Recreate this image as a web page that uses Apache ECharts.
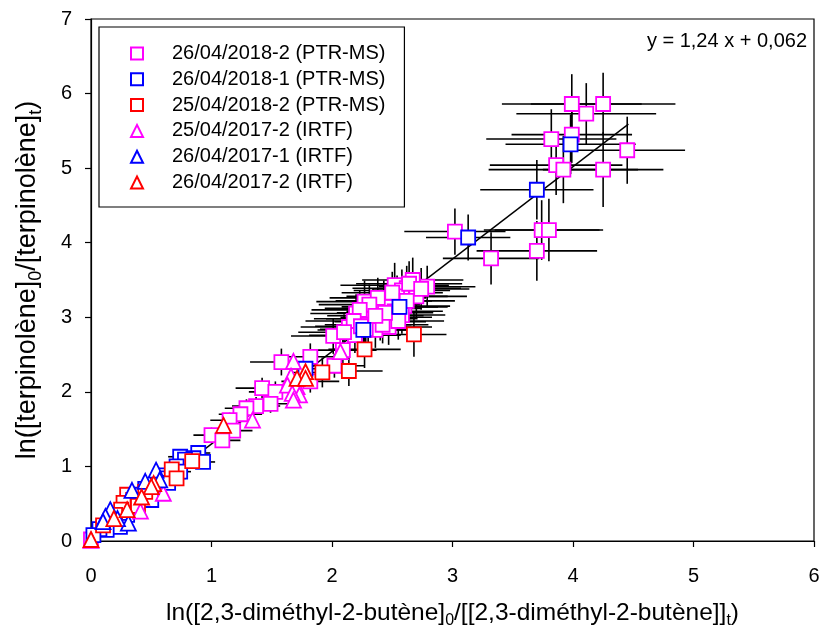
<!DOCTYPE html>
<html>
<head>
<meta charset="utf-8">
<script src="https://cdn.jsdelivr.net/npm/echarts@6/dist/echarts.min.js"></script>
<style>html,body{margin:0;padding:0;background:#fff;}#c{width:822px;height:630px;}</style>
</head>
<body>
<div id="c"></div>
<script>
// [x, y, xErr, yErr]
const sqMagenta2018_2 = [
  [3.99,5.86,0.58,0.40],[4.25,5.86,0.60,0.42],[4.11,5.73,0.58,0.41],[3.82,5.39,0.54,0.40],
  [3.99,5.45,0.50,0.38],[4.45,5.24,0.48,0.45],[3.86,5.04,0.55,0.40],[3.92,4.98,0.62,0.45],
  [4.25,4.98,0.50,0.50],[3.74,4.17,0.48,0.40],[3.80,4.17,0.45,0.42],[3.70,3.89,0.50,0.40],
  [3.02,4.15,0.42,0.31],[3.32,3.79,0.40,0.35],
  [2.67,3.50,0.42,0.30],[2.52,3.43,0.45,0.30],[2.79,3.41,0.40,0.28],[2.62,3.39,0.45,0.30],
  [2.58,3.36,0.40,0.28],[2.70,3.28,0.42,0.28],[2.54,3.28,0.42,0.28],[2.43,3.22,0.40,0.27],
  [2.27,3.21,0.40,0.28],[2.60,3.15,0.38,0.26],[2.48,3.14,0.40,0.27],[2.34,3.12,0.40,0.26],
  [2.20,3.05,0.38,0.26],[2.58,3.03,0.36,0.25],[2.45,3.00,0.38,0.25],[2.25,2.98,0.40,0.25],
  [2.33,2.98,0.38,0.25],[2.40,2.94,0.38,0.25],[2.30,2.90,0.36,0.24],[2.47,2.87,0.36,0.24],
  [2.14,2.87,0.40,0.25],[2.36,2.83,0.36,0.24],[2.19,2.76,0.38,0.24],[2.01,2.75,0.35,0.24],
  [2.64,3.45,0.44,0.30],[2.74,3.38,0.40,0.28],[2.50,3.33,0.42,0.28],[2.38,3.26,0.40,0.27],
  [2.31,3.17,0.42,0.27],[2.52,3.08,0.40,0.26],[2.23,3.10,0.40,0.26],[2.18,2.95,0.40,0.25],
  [2.42,2.90,0.38,0.25],[2.28,2.84,0.38,0.24],[2.10,2.80,0.38,0.24],[2.55,2.95,0.38,0.25],
  [2.62,3.22,0.40,0.27],[2.44,3.06,0.40,0.26],[2.36,3.02,0.40,0.26],[2.24,2.88,0.38,0.25],
  [2.09,2.56,0.28,0.20],[1.82,2.47,0.28,0.18],[1.58,2.40,0.26,0.18],[2.02,2.35,0.25,0.16],
  [1.82,2.14,0.24,0.15],[1.42,2.05,0.22,0.14],[1.53,2.00,0.22,0.14],[1.49,1.84,0.20,0.12],
  [1.37,1.81,0.20,0.12],[1.29,1.78,0.18,0.12],[1.24,1.70,0.18,0.11],[1.15,1.62,0.16,0.10],
  [1.18,1.48,0.16,0.10],[1.00,1.42,0.15,0.10],[1.09,1.35,0.15,0.09],
  [0.48,0.62,0.06,0.03],[0.32,0.45,0.05,0.03],[0.00,0.02,0.00,0.00]
];
const sqBlue2018_1 = [
  [3.98,5.32,0.54,0.40],[3.70,4.71,0.47,0.40],[3.13,4.07,0.35,0.31],[2.56,3.14,0.40,0.28],
  [2.26,2.83,0.38,0.26],[1.78,2.31,0.25,0.16],
  [0.89,1.18,0.10,0.05],[0.74,1.13,0.10,0.05],[0.85,1.11,0.10,0.05],[0.78,1.09,0.10,0.05],
  [0.93,1.06,0.10,0.05],[0.71,1.00,0.09,0.05],[0.74,0.93,0.09,0.04],[0.62,0.88,0.08,0.04],
  [0.57,0.84,0.08,0.04],[0.64,0.78,0.08,0.04],[0.45,0.70,0.07,0.04],[0.40,0.62,0.07,0.03],
  [0.50,0.55,0.07,0.03],[0.35,0.48,0.06,0.03],[0.30,0.35,0.05,0.03],[0.20,0.30,0.05,0.03],
  [0.24,0.19,0.05,0.03],[0.13,0.15,0.04,0.02],[0.07,0.16,0.04,0.02],[0.02,0.08,0.02,0.02]
];
const sqRed2018_2 = [
  [2.68,2.77,0.27,0.30],[2.27,2.57,0.30,0.25],[2.14,2.28,0.28,0.20],[1.92,2.26,0.28,0.20],
  [0.84,1.07,0.10,0.05],[0.67,0.96,0.08,0.05],[0.71,0.84,0.08,0.05],[0.45,0.66,0.06,0.04],
  [0.30,0.62,0.06,0.03],[0.35,0.55,0.06,0.03],[0.27,0.51,0.05,0.03],[0.39,0.47,0.05,0.03],
  [0.25,0.42,0.05,0.03],[0.20,0.35,0.05,0.03],[0.10,0.21,0.04,0.02]
];
// [x, y]
const triMagenta2017_2 = [
  [2.07,2.54],[1.68,2.41],[1.66,2.21],[1.63,2.09],[1.71,2.07],[1.73,1.96],[1.67,1.98],
  [1.68,1.89],[1.34,1.62],[0.60,0.64],[0.41,0.40],[0.00,0.01]
];
const triBlue2017_1 = [
  [0.54,0.95],[0.57,0.82],[0.45,0.80],[0.34,0.68],[0.16,0.42],[0.12,0.33],[0.31,0.24],
  [0.22,0.30],[0.10,0.26]
];
const triRed2017_2 = [
  [1.78,2.27],[1.71,2.18],[1.78,2.18],[1.10,1.55],[0.52,0.77],[0.50,0.73],[0.42,0.59],
  [0.30,0.42],[0.19,0.30],[0.00,0.02]
];
const fitLine = [[0.00,0.062],[4.46,5.59]];
const fitLabel = 'y = 1,24 x + 0,062';
const seriesNames = ['26/04/2018-2 (PTR-MS)','26/04/2018-1 (PTR-MS)','25/04/2018-2 (PTR-MS)',
  '25/04/2017-2 (IRTF)','26/04/2017-1 (IRTF)','26/04/2017-2 (IRTF)'];
const xTicks = [0,1,2,3,4,5,6];
const yTicks = [0,1,2,3,4,5,6,7];

const FONT = 'Liberation Sans, Arial, sans-serif';
const chart = echarts.init(document.getElementById('c'), null, {renderer:'canvas'});

function errRender(params, api) {
  const x = api.value(0), y = api.value(1), xe = api.value(2), ye = api.value(3);
  const children = [];
  const st = {stroke:'#000', lineWidth:1.6};
  if (xe > 0) {
    const a = api.coord([x-xe, y]), b = api.coord([x+xe, y]);
    children.push({type:'line', shape:{x1:a[0],y1:a[1],x2:b[0],y2:b[1]}, style:st});
  }
  if (ye > 0) {
    const a = api.coord([x, y-ye]), b = api.coord([x, y+ye]);
    children.push({type:'line', shape:{x1:a[0],y1:a[1],x2:b[0],y2:b[1]}, style:st});
  }
  return {type:'group', children};
}
const allErr = sqMagenta2018_2.concat(sqBlue2018_1, sqRed2018_2);

function sc(name, data, symbol, color, size, z) {
  return {
    name, type:'scatter', data: data.map(d => [d[0], d[1]]), symbol, symbolSize: size,
    itemStyle:{color:'#fff', borderColor:color, borderWidth:1.8, opacity:1},
    emphasis:{disabled:true}, z
  };
}

chart.setOption({
  animation:false,
  backgroundColor:'#fff',
  grid:{left:91, right:8, top:19, bottom:89, outerBoundsMode:'none', containLabel:false,
    show:true, borderColor:'#000', borderWidth:1.2, backgroundColor:'transparent'},
  xAxis:{
    type:'value', min:xTicks[0], max:xTicks[xTicks.length-1], interval:1,
    axisLine:{show:true, onZero:false, lineStyle:{color:'#000', width:1.2}},
    axisTick:{show:true, inside:false, length:6, lineStyle:{color:'#000', width:1.2}},
    axisLabel:{color:'#000', fontSize:20, fontFamily:FONT, margin:25},
    splitLine:{show:false},
    name:'ln([2,3-diméthyl-2-butène]{sub|0}/[[2,3-diméthyl-2-butène]]{sub|t})',
    nameLocation:'middle', nameGap:56,
    nameTextStyle:{color:'#000', fontSize:24.5, fontFamily:FONT, lineHeight:32,
      rich:{sub:{fontSize:16, fontFamily:FONT, color:'#000', verticalAlign:'bottom', lineHeight:16}}}
  },
  yAxis:{
    type:'value', min:yTicks[0], max:yTicks[yTicks.length-1], interval:1,
    axisLine:{show:true, onZero:false, lineStyle:{color:'#000', width:1.2}},
    axisTick:{show:true, inside:false, length:6, lineStyle:{color:'#000', width:1.2}},
    axisLabel:{color:'#000', fontSize:20, fontFamily:FONT, margin:19},
    splitLine:{show:false},
    name:'ln([terpinolène]{sub|0}/[terpinolène]{sub|t})',
    nameLocation:'middle', nameGap:46,
    nameTextStyle:{color:'#000', fontSize:27, fontFamily:FONT, lineHeight:34,
      rich:{sub:{fontSize:18, fontFamily:FONT, color:'#000', verticalAlign:'bottom', lineHeight:18}}}
  },
  legend:{
    show:true, orient:'vertical', left:99, top:27,
    padding:[16.5, 19, 14.5, 31], itemGap:5.8, itemWidth:12, itemHeight:12,
    borderColor:'#000', borderWidth:1.2, backgroundColor:'#fff',
    textStyle:{color:'#000', fontSize:20, fontFamily:FONT, lineHeight:19, padding:[0,0,0,24]},
    data: seriesNames.map((n,i)=>({name:n, icon: i<3 ? 'rect' : 'triangle'})),
    selectedMode:false
  },
  graphic:[{
    type:'text', right:15, top:31,
    style:{text:fitLabel, fill:'#000', font:'20px ' + FONT}
  }],
  series:[
    {name:'fit', type:'line', data:fitLine, symbol:'none', lineStyle:{color:'#000', width:1.4}, z:1, silent:true},
    {name:'err', type:'custom', data:allErr, renderItem:errRender, z:2, silent:true},
    sc(seriesNames[0], sqMagenta2018_2, 'rect', '#ff00ff', 14, 3),
    sc(seriesNames[1], sqBlue2018_1, 'rect', '#0000ff', 14, 3),
    sc(seriesNames[2], sqRed2018_2, 'rect', '#ff0000', 14, 3),
    sc(seriesNames[3], triMagenta2017_2, 'triangle', '#ff00ff', 15, 4),
    sc(seriesNames[4], triBlue2017_1, 'triangle', '#0000ff', 15, 4),
    sc(seriesNames[5], triRed2017_2, 'triangle', '#ff0000', 15, 4)
  ]
});
</script>
</body>
</html>
